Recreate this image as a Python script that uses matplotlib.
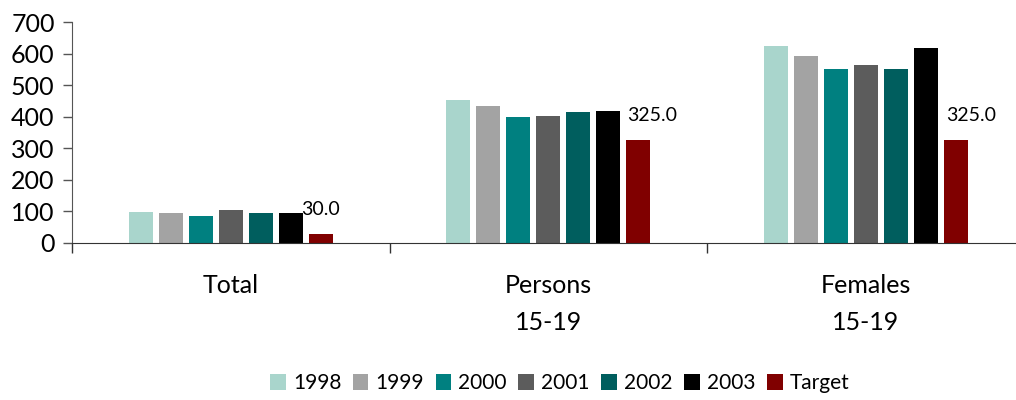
import matplotlib
matplotlib.use("Agg")
import matplotlib.pyplot as plt
import numpy as np

categories = ["Total", "Persons\n15-19", "Females\n15-19"]
series_names = ["1998", "1999", "2000", "2001", "2002", "2003", "Target"]
values = {
    "1998": [97, 453, 624],
    "1999": [94, 434, 592],
    "2000": [87, 399, 551],
    "2001": [106, 403, 564],
    "2002": [94, 415, 551],
    "2003": [94, 418, 618],
    "Target": [30, 325, 325],
}
colors = ["#a9d5cc", "#a3a3a3", "#008080", "#5c5c5c", "#005e5e", "#000000", "#800000"]
yticks = [0, 100, 200, 300, 400, 500, 600, 700]

plt.rcParams["font.family"] = ["Lato", "DejaVu Sans"]

fig = plt.figure(figsize=(10.16, 4.0), dpi=100)
ax = fig.add_axes([72 / 1016, 157 / 400, 952.5 / 1016, 221 / 400])

x = np.arange(len(categories))
slot = 30 / 317.5
width = slot * 0.8
for i, name in enumerate(series_names):
    ax.bar(x + (i - 3) * slot, values[name], width=width, color=colors[i], label=name)

# data labels on the target bars
offsets = [(0, 11), (10, 12), (11, 12)]
for j, v in enumerate(values["Target"]):
    ax.annotate(f"{v:.1f}", xy=(x[j] + 3 * slot, v), xytext=offsets[j],
                textcoords="offset points", ha="center", va="bottom", fontsize=14)

ax.set_xlim(-0.5, 2.5)
ax.set_ylim(0, 700)
ax.set_yticks(yticks)
ax.set_yticklabels([str(t) for t in yticks], fontsize=18)
ax.set_xticks(x)
ax.set_xticklabels(categories, fontsize=18, linespacing=1.75)
ax.set_xticks([-0.5, 0.5, 1.5, 2.5], minor=True)
ax.tick_params(axis="x", which="major", length=0, pad=22)
ax.tick_params(axis="x", which="minor", length=7, width=1, direction="out", color="#333333")
ax.tick_params(axis="y", length=6.5, width=1, color="#555555", pad=6)
for s in ["top", "right"]:
    ax.spines[s].set_visible(False)
ax.spines["left"].set_color("#555555")
ax.spines["bottom"].set_color("#333333")

fig.legend(loc="center", bbox_to_anchor=(0.551, 0.042), ncol=7, frameon=False,
           fontsize=15, handlelength=0.75, handleheight=0.75, handletextpad=0.35,
           columnspacing=0.55)

fig.savefig("out.png", dpi=100)
